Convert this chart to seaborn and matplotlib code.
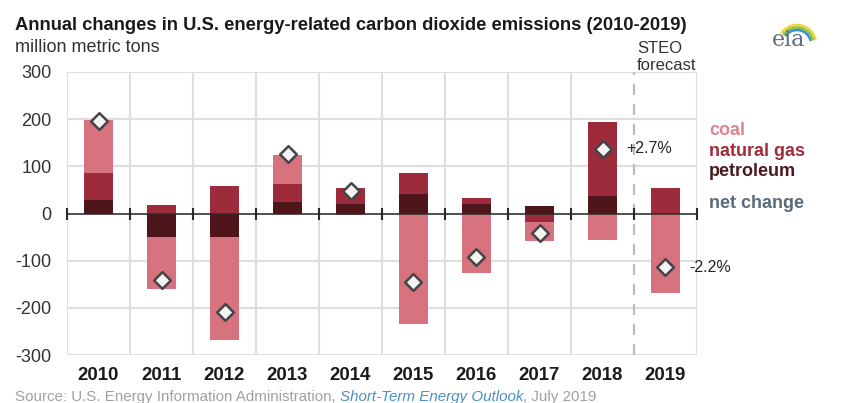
import matplotlib.pyplot as plt
from matplotlib.patches import Arc
import seaborn as sns
import numpy as np

# values, million metric tons
years = ["2010", "2011", "2012", "2013", "2014", "2015", "2016", "2017", "2018", "2019"]
petroleum = [28, -49, -49, 25, 21, 41, 21, 16, 37, 0]
natural_gas = [58, 17, 59, 37, 33, 44, 12, -19, 156, 54]
coal = [113, -111, -220, 63, -4, -234, -126, -39, -57, -168]
net_change = [197, -141, -209, 127, 48, -146, -93, -41, 137, -114]
pct_labels = {"2018": "+2.7%", "2019": "-2.2%"}
y_ticks = [-300, -200, -100, 0, 100, 200, 300]

colors = {"coal": "#d6737f", "natural gas": "#9e2b3b", "petroleum": "#4e151b"}
label_colors = {"coal": "#e0848f", "natural gas": "#a02c3c", "petroleum": "#4a1a1f",
                "net change": "#5c6a78"}

sns.set_style("white")
plt.rcParams['font.family'] = ['Liberation Sans', 'DejaVu Sans']

fig = plt.figure(figsize=(8.54, 4.03), dpi=100)
ax = fig.add_axes([67/854, 1 - 355/403, 630/854, 283/403])

# stacked bars, positives go up from zero and negatives go down
pos_base = np.zeros(len(years))
neg_base = np.zeros(len(years))
for name, series in [("petroleum", petroleum), ("natural gas", natural_gas), ("coal", coal)]:
    v = np.array(series, dtype=float)
    bottom = np.where(v >= 0, pos_base, neg_base)
    sns.barplot(x=years, y=v, bottom=bottom, color=colors[name], saturation=1,
                width=0.45, errorbar=None, linewidth=0, ax=ax, zorder=2)
    pos_base += np.clip(v, 0, None)
    neg_base += np.clip(v, None, 0)

# net change diamonds
sns.stripplot(x=years, y=net_change, jitter=False, marker="D", size=8.5,
              color="#f4f4f4", edgecolor="#454545", linewidth=1.8, ax=ax, zorder=6)

n = len(years)
boundaries = np.arange(n + 1) - 0.5
ax.set_xlim(-0.5, n - 0.5)
ax.set_ylim(y_ticks[0], y_ticks[-1])

# grid: horizontal every 100, vertical between years (dashed one before forecast)
for y in y_ticks:
    ax.axhline(y, color="#dedede", lw=1.5, zorder=0)
for b in boundaries:
    if b != n - 1.5:
        ax.axvline(b, color="#dedede", lw=1.5, zorder=0)
ax.axvline(n - 1.5, color="#bdbdbd", lw=1.6, ls=(0, (5, 4)), zorder=1)

ax.axhline(0, color="#2a2a2a", lw=1.1, zorder=4)
ax.plot(boundaries, np.zeros(n + 1), ls="none", marker="|", ms=8, mew=1.5,
        color="#2a2a2a", zorder=4, clip_on=False)

ax.set_yticks(y_ticks)
ax.set_yticklabels([str(t) for t in y_ticks], fontsize=13, color="#333333")
ax.set_xticks(range(n))
ax.set_xticklabels(years, fontsize=13.4, fontweight="bold", color="#1a1a1a")
ax.tick_params(axis="both", length=0)
ax.tick_params(axis="y", pad=11)
ax.tick_params(axis="x", pad=9)
ax.set_xlabel("")
ax.set_ylabel("")
for s in ax.spines.values():
    s.set_visible(False)

# percent annotations
for yr, lab in pct_labels.items():
    i = years.index(yr)
    ax.annotate(lab, xy=(i, net_change[i]), xytext=(17, 0), textcoords="offset points",
                va="center", ha="left", fontsize=11.5, color="#222222", zorder=7)

# titles
fig.text(15/854, 1 - 30.5/403, "Annual changes in U.S. energy-related carbon dioxide emissions (2010-2019)",
         fontsize=13.2, fontweight="bold", color="#1a1a1a", va="baseline")
fig.text(15/854, 1 - 51.5/403, "million metric tons", fontsize=13, color="#333333", va="baseline")
fig.text(637/854, 1 - 53/403, "STEO", fontsize=12, color="#333333", va="baseline")
fig.text(637/854, 1 - 70/403, "forecast", fontsize=12, color="#333333", va="baseline")

# legend as coloured words
legend_rows = [("coal", 135), ("natural gas", 156), ("petroleum", 176), ("net change", 208)]
for name, ypx in legend_rows:
    fig.text(709/854, 1 - ypx/403, name, fontsize=13, fontweight="bold",
             color=label_colors[name], va="baseline")

# eia logo
fig.text(789/854, 1 - 46/403, "eia", fontsize=16, family="DejaVu Serif", color="#5f6f7c",
         ha="center", va="baseline")
for r, c in [(19, "#f2d23c"), (16.5, "#8cc63f"), (14, "#3a8fd0")]:
    fig.add_artist(Arc((797/854, 1 - 44/403), 2*r/854, 2*r/403, theta1=25, theta2=125,
                       color=c, lw=1.8, transform=fig.transFigure))

# source line
t1 = fig.text(15/854, 1 - 404/403, "Source: U.S. Energy Information Administration, ",
              fontsize=10.9, color="#a0a0a0", va="bottom")
t2 = ax.annotate("Short-Term Energy Outlook", xy=(1, 0), xycoords=t1, va="bottom",
                 fontsize=10.9, color="#4a90c8", style="italic", annotation_clip=False)
ax.annotate(", July 2019", xy=(1, 0), xycoords=t2, va="bottom",
            fontsize=10.9, color="#a0a0a0", annotation_clip=False)

fig.savefig("out.png", dpi=100)
